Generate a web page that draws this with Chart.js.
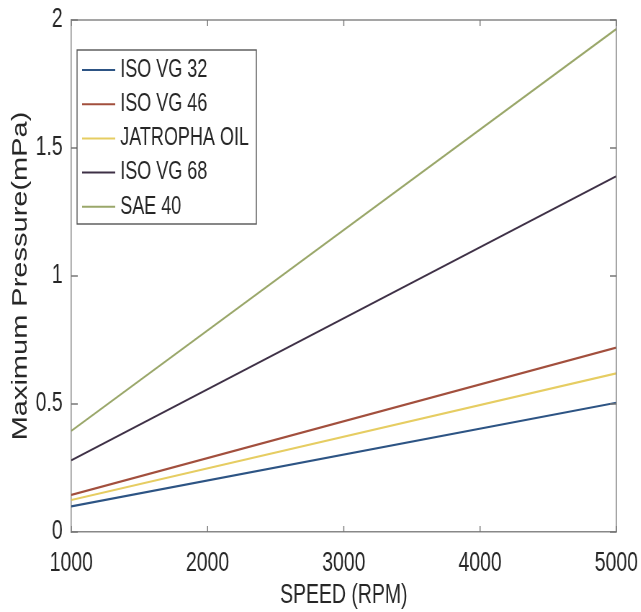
<!DOCTYPE html>
<html>
<head>
<meta charset="utf-8">
<script src="https://cdn.jsdelivr.net/npm/chart.js@4"></script>
<style>
  html, body { margin: 0; padding: 0; background: #fff; overflow: hidden; }
  #wrap { width: 890px; height: 612px; transform: scaleX(0.72); transform-origin: 0 0; }
</style>
</head>
<body>
<div id="wrap"><canvas id="pressureChart" width="890" height="612"></canvas></div>
<script>
// speed vs max pressure (straight lines, end points)
const speeds = [1000, 5000];
const isoVG32 = [0.10, 0.505];
const isoVG46 = [0.145, 0.72];
const jatropha = [0.125, 0.62];
const isoVG68 = [0.28, 1.39];
const sae40 = [0.395, 1.965];
const xTicks = [1000, 2000, 3000, 4000, 5000];
const yTicks = [0, 0.5, 1, 1.5, 2];

const FONT = '"Liberation Sans", Arial, sans-serif';
const pts = vals => speeds.map((s, i) => ({ x: s, y: vals[i] }));

const series = [
  { label: 'ISO VG 32', data: pts(isoVG32), color: '#2d5484' },
  { label: 'ISO VG 46', data: pts(isoVG46), color: '#a24f3d' },
  { label: 'JATROPHA OIL', data: pts(jatropha), color: '#e6cd62' },
  { label: 'ISO VG 68', data: pts(isoVG68), color: '#3e3046' },
  { label: 'SAE 40', data: pts(sae40), color: '#9aa76a' }
];

// top/right box edges + inward tick marks on all four sides (matlab style)
const boxTicks = {
  id: 'boxTicks',
  afterDraw(chart) {
    const { ctx, chartArea: a, scales } = chart;
    ctx.save();
    ctx.strokeStyle = '#888';
    ctx.lineWidth = 1.5;
    ctx.beginPath();
    ctx.moveTo(a.left, a.top); ctx.lineTo(a.right, a.top); ctx.lineTo(a.right, a.bottom);
    ctx.stroke();
    ctx.strokeStyle = '#777';
    ctx.lineWidth = 1.4;
    ctx.beginPath();
    xTicks.forEach(v => {
      const px = scales.x.getPixelForValue(v);
      ctx.moveTo(px, a.bottom); ctx.lineTo(px, a.bottom - 6);
      ctx.moveTo(px, a.top); ctx.lineTo(px, a.top + 6);
    });
    yTicks.forEach(v => {
      const py = scales.y.getPixelForValue(v);
      ctx.moveTo(a.left, py); ctx.lineTo(a.left + 9, py);
      ctx.moveTo(a.right, py); ctx.lineTo(a.right - 9, py);
    });
    ctx.stroke();
    ctx.restore();
  }
};

// legend box inside the axes, upper left
const boxLegend = {
  id: 'boxLegend',
  afterDraw(chart) {
    const { ctx, chartArea: a } = chart;
    const left = a.left + 8, top = a.top + 30, w = 249, h = 174;
    ctx.save();
    ctx.fillStyle = '#fff';
    ctx.fillRect(left, top, w, h);
    ctx.strokeStyle = '#555';
    ctx.lineWidth = 1.4;
    ctx.strokeRect(left, top, w, h);
    ctx.font = '25px ' + FONT;
    ctx.textBaseline = 'middle';
    chart.data.datasets.forEach((ds, i) => {
      const y = top + 20 + i * 34.2;
      ctx.strokeStyle = ds.borderColor;
      ctx.lineWidth = 2;
      ctx.beginPath();
      ctx.moveTo(left + 7, y);
      ctx.lineTo(left + 53, y);
      ctx.stroke();
      ctx.fillStyle = '#262626';
      ctx.fillText(ds.label, left + 60, y);
    });
    ctx.restore();
  }
};

// invisible tick marks only used to push the labels away from the axis
const hiddenGrid = len => ({ display: true, color: 'rgba(0,0,0,0)', drawOnChartArea: false, drawTicks: true, tickLength: len });

const chart = new Chart(document.getElementById('pressureChart'), {
  type: 'line',
  data: {
    datasets: series.map(s => ({
      label: s.label,
      data: s.data,
      borderColor: s.color,
      backgroundColor: s.color,
      borderWidth: 2.2,
      pointRadius: 0,
      tension: 0
    }))
  },
  options: {
    responsive: false,
    animation: false,
    devicePixelRatio: 1,
    layout: { padding: { left: 0, right: 34, top: 20, bottom: 0 } },
    plugins: { legend: { display: false }, tooltip: { enabled: false } },
    scales: {
      x: {
        type: 'linear', min: 1000, max: 5000,
        afterBuildTicks: s => { s.ticks = xTicks.map(v => ({ value: v })); },
        afterFit: s => { s.height = 80; },
        grid: hiddenGrid(15),
        border: { display: true, color: '#888', width: 1.5 },
        ticks: { padding: 0, color: '#262626', font: { family: FONT, size: 27 }, maxRotation: 0,
                 callback: v => String(v) },
        title: { display: true, text: 'SPEED (RPM)', color: '#262626', font: { family: FONT, size: 27 }, padding: { top: 0, bottom: 0 } }
      },
      y: {
        min: 0, max: 2,
        afterBuildTicks: s => { s.ticks = yTicks.map(v => ({ value: v })); },
        afterFit: s => { s.width = 99; },
        grid: hiddenGrid(12),
        border: { display: true, color: '#888', width: 1.5 },
        ticks: { padding: 0, color: '#262626', font: { family: FONT, size: 27 },
                 callback: v => String(v) },
        title: { display: true, text: 'Maximum Pressure(mPa)', color: '#262626', font: { family: FONT, size: 29 }, padding: { top: 12, bottom: 0 } }
      }
    }
  },
  plugins: [boxTicks, boxLegend]
});
</script>
</body>
</html>
